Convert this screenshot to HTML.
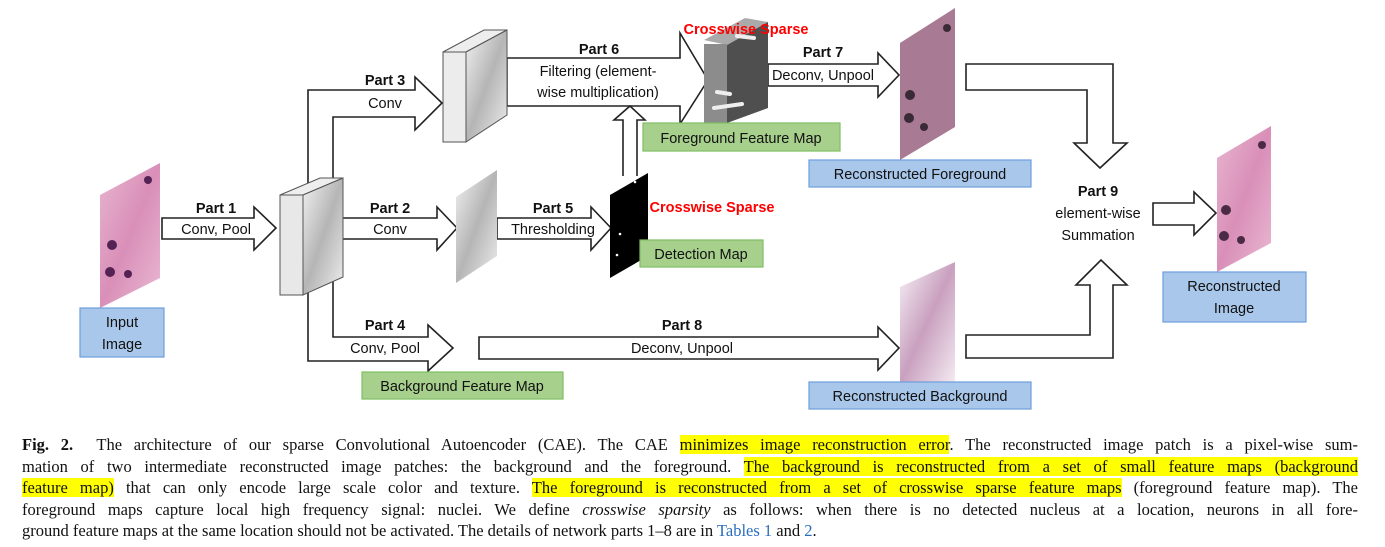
<!DOCTYPE html>
<html><head><meta charset="utf-8"><style>
body{margin:0;width:1385px;height:547px;background:#fff;overflow:hidden;position:relative}
svg{position:absolute;left:0;top:0}
.cap{position:absolute;left:22px;width:1336px;font-family:"Liberation Serif",serif;font-size:16.5px;color:#111}
.cap div{height:21.6px;line-height:21.6px;text-align:justify;text-align-last:justify;white-space:nowrap}
.hl{background:#ffff00}
</style></head><body>
<svg width="1385" height="430" viewBox="0 0 1385 430" font-family="Liberation Sans, sans-serif" font-size="14.5">
<defs>
<linearGradient id="pk" x1="0" y1="0" x2="1" y2="1"><stop offset="0" stop-color="#e8b6d0"/><stop offset="0.5" stop-color="#d98fb8"/><stop offset="1" stop-color="#eab9d3"/></linearGradient>
<linearGradient id="gr" x1="0" y1="0" x2="1" y2="1"><stop offset="0" stop-color="#f2f2f2"/><stop offset="0.5" stop-color="#b5b5b5"/><stop offset="1" stop-color="#eee"/></linearGradient>
<linearGradient id="bg" x1="0" y1="0" x2="1" y2="1"><stop offset="0" stop-color="#f7f1f6"/><stop offset="0.5" stop-color="#c9a0bf"/><stop offset="1" stop-color="#f3eaf1"/></linearGradient>
</defs>
<g fill="#fff" stroke="#222" stroke-width="1.6">
<!-- Part1 -->
<path d="M162 218H254V207L276 228L254 250V239H162Z"/>
<!-- Part2 -->
<path d="M330 218H437V207L457 228L437 250V239H330Z"/>
<!-- Part5 -->
<path d="M497 218H591V207L611 228L591 250V239H497Z"/>
<!-- Part3 -->
<path d="M308 183V90H415V77L442 103L415 130V117H333V178" />
<!-- Part4 -->
<path d="M308 293V361H428V371L453 348L428 325V337H333V277"/>
<!-- Part6 -->
<path d="M507 58H680V33L708 80L680 124V106H507Z"/>
<!-- up arrow -->
<path d="M623 176V120H614L630 106L645 120H637V176"/>
<!-- Part7 -->
<path d="M768 64H878V53L899 75L878 97V86H768Z"/>
<!-- Part8 -->
<path d="M479 337H878V327L899 348L878 370V359H479Z"/>
<!-- elbow top -->
<path d="M966 64H1113V143H1127L1100 168L1074 143H1087V90H966Z"/>
<!-- elbow bottom -->
<path d="M966 358H1113V285H1127L1101 260L1076 285H1090V335H966Z"/>
<!-- part9 right arrow -->
<path d="M1153 203H1194V192L1216 213L1194 235V225H1153Z"/>
</g>
<!-- input image -->
<polygon points="100,195 160,163 160,278 100,308" fill="url(#pk)"/>
<circle cx="148" cy="180" r="4" fill="#552255"/><circle cx="112" cy="245" r="5" fill="#552255"/><circle cx="110" cy="272" r="5" fill="#552255"/><circle cx="128" cy="274" r="4" fill="#552255"/>
<!-- box1 -->
<g stroke="#555" stroke-width="1"><polygon points="280,195 303,195 343,178 320,178" fill="#eee"/><polygon points="303,195 343,178 343,277 303,295" fill="url(#gr)"/><rect x="280" y="195" width="23" height="100" fill="#e8e8e8"/></g>
<!-- feature map 2 -->
<polygon points="456,197 497,170 497,256 456,283" fill="url(#gr)"/>
<!-- detection map -->
<polygon points="610,195 648,173 648,256 610,278" fill="#000"/>
<circle cx="635" cy="182" r="1.3" fill="#fff"/><circle cx="620" cy="234" r="1.3" fill="#fff"/><circle cx="617" cy="255" r="1.3" fill="#fff"/>
<!-- box3 -->
<g stroke="#555" stroke-width="1"><polygon points="443,52 466,52 507,30 484,30" fill="#eee"/><polygon points="466,52 507,30 507,115 466,142" fill="url(#gr)"/><rect x="443" y="52" width="23" height="90" fill="#ececec"/></g>
<!-- box6 -->
<polygon points="704,40 727,45 768,22 745,18" fill="#aaa"/>
<rect x="704" y="44" width="23" height="79" fill="#8c8c8c"/>
<polygon points="727,45 768,22 768,108 727,123" fill="#4f4f4f"/>
<g stroke="#eee" stroke-width="4" stroke-linecap="round"><line x1="717" y1="92" x2="730" y2="94"/><line x1="714" y1="108" x2="742" y2="104"/><line x1="737" y1="36" x2="754" y2="38"/></g>
<!-- recon foreground -->
<polygon points="900,43 955,8 955,127 900,160" fill="#a87a93"/>
<circle cx="910" cy="95" r="5" fill="#3a2a35"/><circle cx="909" cy="118" r="5" fill="#3a2a35"/><circle cx="924" cy="127" r="4" fill="#3a2a35"/><circle cx="947" cy="28" r="4" fill="#3a2a35"/>
<!-- recon background -->
<polygon points="900,287 955,262 955,382 900,382" fill="url(#bg)"/>
<!-- recon image -->
<polygon points="1217,158 1271,126 1271,243 1217,272" fill="url(#pk)"/>
<circle cx="1226" cy="210" r="5" fill="#4a2a45"/><circle cx="1224" cy="236" r="5" fill="#4a2a45"/><circle cx="1241" cy="240" r="4" fill="#4a2a45"/><circle cx="1262" cy="145" r="4" fill="#4a2a45"/>
<!-- label boxes -->
<g stroke="#6d9edb" stroke-width="1.2" fill="#a9c7ea">
<rect x="80" y="308" width="84" height="49"/>
<rect x="809" y="160" width="222" height="27"/>
<rect x="809" y="382" width="222" height="27"/>
<rect x="1163" y="272" width="143" height="50"/>
</g>
<g stroke="#7fbf63" stroke-width="1.2" fill="#a8d08d">
<rect x="643" y="123" width="197" height="28"/>
<rect x="640" y="240" width="123" height="27"/>
<rect x="362" y="372" width="201" height="27"/>
</g>
<g fill="#111" text-anchor="middle">
<text x="122" y="327">Input</text><text x="122" y="349">Image</text>
<text x="920" y="179">Reconstructed Foreground</text>
<text x="920" y="401">Reconstructed Background</text>
<text x="1234" y="291">Reconstructed</text><text x="1234" y="313">Image</text>
<text x="741" y="143">Foreground Feature Map</text>
<text x="701" y="259">Detection Map</text>
<text x="462" y="391">Background Feature Map</text>
<g font-weight="bold"><text x="216" y="213">Part 1</text><text x="390" y="213">Part 2</text><text x="553" y="213">Part 5</text><text x="385" y="85">Part 3</text><text x="599" y="54">Part 6</text><text x="823" y="57">Part 7</text><text x="385" y="330">Part 4</text><text x="682" y="330">Part 8</text><text x="1098" y="196">Part 9</text></g>
<text x="216" y="234">Conv, Pool</text><text x="390" y="234">Conv</text><text x="553" y="234">Thresholding</text><text x="385" y="108">Conv</text>
<text x="598" y="76">Filtering (element-</text><text x="598" y="97">wise multiplication)</text>
<text x="823" y="80">Deconv, Unpool</text>
<text x="385" y="353">Conv, Pool</text><text x="682" y="353">Deconv, Unpool</text>
<text x="1098" y="218">element-wise</text><text x="1098" y="240">Summation</text>
<g fill="#f00" font-weight="bold"><text x="746" y="34">Crosswise Sparse</text><text x="712" y="212">Crosswise Sparse</text></g>
</g>
</svg>
<div class="cap" style="top:434px">
<div><b>Fig. 2.</b>&nbsp; The architecture of our sparse Convolutional Autoencoder (CAE). The CAE <span class="hl">minimizes image reconstruction error</span>. The reconstructed image patch is a pixel-wise sum-</div>
<div>mation of two intermediate reconstructed image patches: the background and the foreground. <span class="hl">The background is reconstructed from a set of small feature maps (background</span></div>
<div><span class="hl">feature map)</span> that can only encode large scale color and texture. <span class="hl">The foreground is reconstructed from a set of crosswise sparse feature maps</span> (foreground feature map). The</div>
<div>foreground maps capture local high frequency signal: nuclei. We define <i>crosswise sparsity</i> as follows: when there is no detected nucleus at a location, neurons in all fore-</div>
<div style="text-align-last:left">ground feature maps at the same location should not be activated. The details of network parts 1–8 are in <span style="color:#2a6ebb">Tables 1</span> and <span style="color:#2a6ebb">2</span>.</div>
</div>
</body></html>
